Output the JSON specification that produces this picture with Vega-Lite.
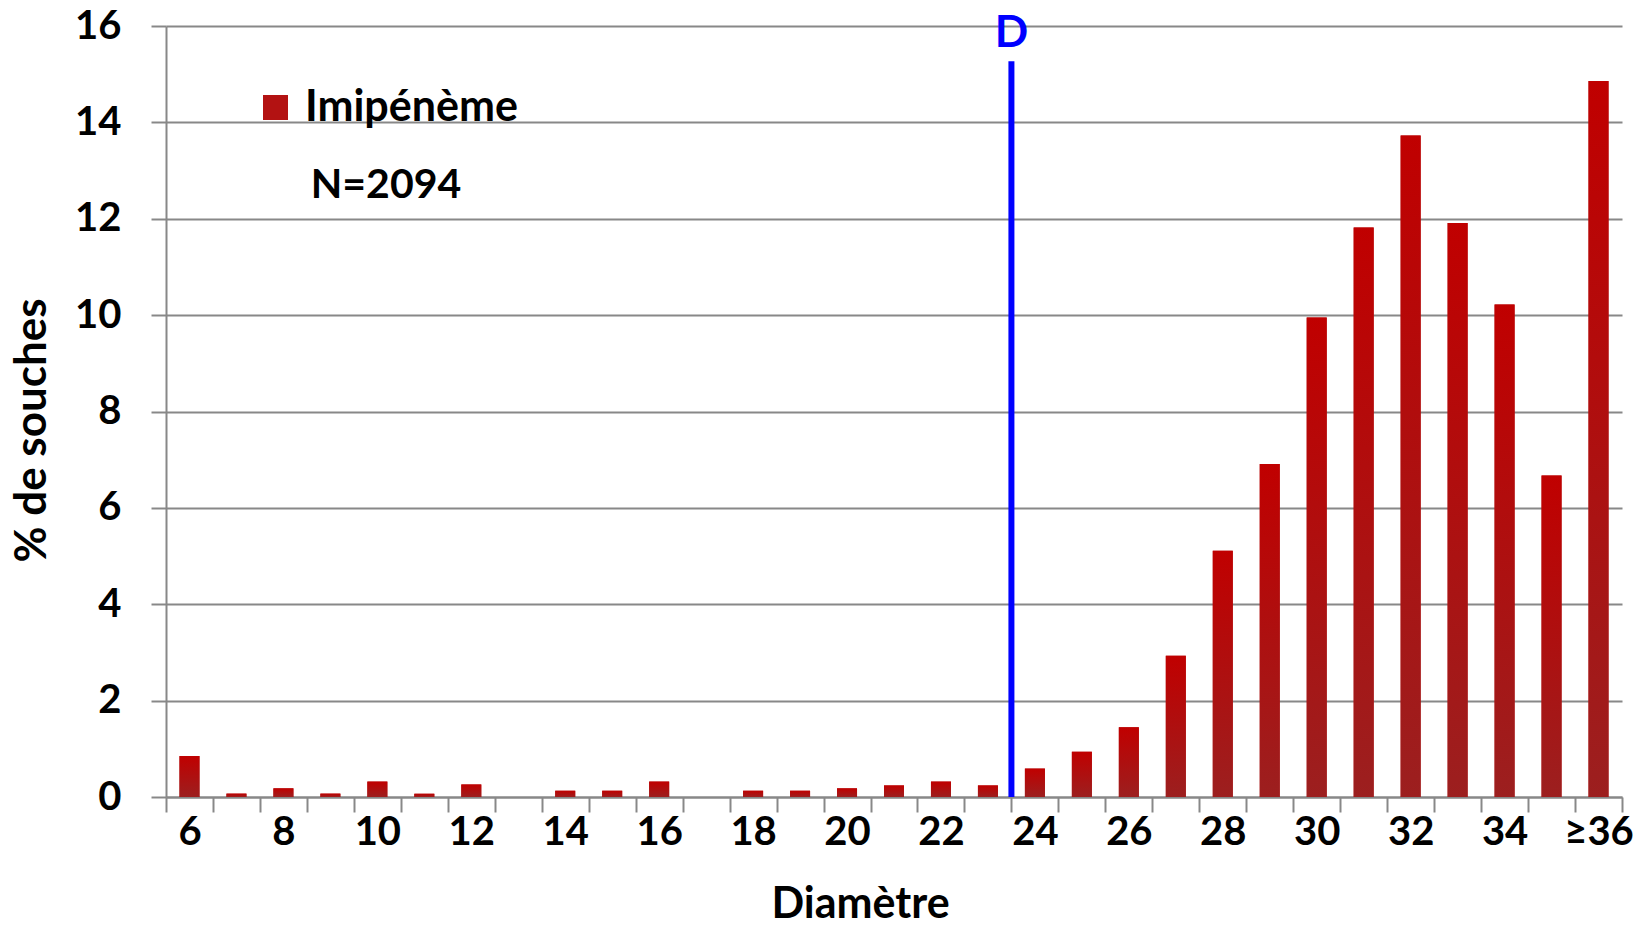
{
  "$schema": "https://vega.github.io/schema/vega-lite/v6.json",
  "width": 1456,
  "height": 771,
  "autosize": {"type": "none"},
  "padding": {"left": 166, "top": 26, "right": 23, "bottom": 132},
  "background": "white",
  "config": {"font": "Lato", "view": {"stroke": null}},
  "datasets": {
    "bars": [
      {"d": "6", "pct": 0.85, "serie": "Imipénème"},
      {"d": "7", "pct": 0.07, "serie": "Imipénème"},
      {"d": "8", "pct": 0.18, "serie": "Imipénème"},
      {"d": "9", "pct": 0.07, "serie": "Imipénème"},
      {"d": "10", "pct": 0.32, "serie": "Imipénème"},
      {"d": "11", "pct": 0.07, "serie": "Imipénème"},
      {"d": "12", "pct": 0.26, "serie": "Imipénème"},
      {"d": "13", "pct": 0, "serie": "Imipénème"},
      {"d": "14", "pct": 0.13, "serie": "Imipénème"},
      {"d": "15", "pct": 0.13, "serie": "Imipénème"},
      {"d": "16", "pct": 0.32, "serie": "Imipénème"},
      {"d": "17", "pct": 0, "serie": "Imipénème"},
      {"d": "18", "pct": 0.13, "serie": "Imipénème"},
      {"d": "19", "pct": 0.13, "serie": "Imipénème"},
      {"d": "20", "pct": 0.18, "serie": "Imipénème"},
      {"d": "21", "pct": 0.24, "serie": "Imipénème"},
      {"d": "22", "pct": 0.32, "serie": "Imipénème"},
      {"d": "23", "pct": 0.24, "serie": "Imipénème"},
      {"d": "24", "pct": 0.59, "serie": "Imipénème"},
      {"d": "25", "pct": 0.94, "serie": "Imipénème"},
      {"d": "26", "pct": 1.45, "serie": "Imipénème"},
      {"d": "27", "pct": 2.93, "serie": "Imipénème"},
      {"d": "28", "pct": 5.11, "serie": "Imipénème"},
      {"d": "29", "pct": 6.91, "serie": "Imipénème"},
      {"d": "30", "pct": 9.95, "serie": "Imipénème"},
      {"d": "31", "pct": 11.82, "serie": "Imipénème"},
      {"d": "32", "pct": 13.73, "serie": "Imipénème"},
      {"d": "33", "pct": 11.91, "serie": "Imipénème"},
      {"d": "34", "pct": 10.22, "serie": "Imipénème"},
      {"d": "35", "pct": 6.67, "serie": "Imipénème"},
      {"d": "≥36", "pct": 14.86, "serie": "Imipénème"}
    ],
    "seuil": [{"label": "D", "cat": "24", "base": 0, "top": 15.27, "pos": 15.84}]
  },
  "layer": [
    {
      "data": {"name": "bars"},
      "mark": {"type": "bar", "width": 20},
      "encoding": {
        "x": {
          "field": "d",
          "type": "nominal",
          "sort": null,
          "title": "Diamètre",
          "scale": {
            "domain": ["6","7","8","9","10","11","12","13","14","15","16","17","18","19","20","21","22","23","24","25","26","27","28","29","30","31","32","33","34","35","≥36"],
            "paddingInner": 0,
            "paddingOuter": 0
          },
          "axis": {
            "tickBand": "extent",
            "grid": false,
            "domainColor": "#888888",
            "domainWidth": 2,
            "tickColor": "#888888",
            "tickWidth": 2,
            "tickSize": 15,
            "labelAngle": 0,
            "labelFontSize": 40,
            "labelFontWeight": "bold",
            "labelColor": "black",
            "labelPadding": 0,
            "labelOverlap": false,
            "labelExpr": "indexof(['7','9','11','13','15','17','19','21','23','25','27','29','31','33','35'], datum.value) >= 0 ? '' : datum.label",
            "titleFontSize": 43,
            "titleFontWeight": "bold",
            "titleColor": "black",
            "titleX": 694,
            "titleY": 120,
            "titleBaseline": "alphabetic"
          }
        },
        "y": {
          "field": "pct",
          "type": "quantitative",
          "title": "% de souches",
          "scale": {"domain": [0, 16]},
          "axis": {
            "values": [0, 2, 4, 6, 8, 10, 12, 14, 16],
            "grid": true,
            "gridColor": "#888888",
            "gridWidth": 2,
            "domainColor": "#888888",
            "domainWidth": 2,
            "tickColor": "#888888",
            "tickWidth": 2,
            "tickSize": 15,
            "labelFontSize": 40,
            "labelFontWeight": "bold",
            "labelColor": "black",
            "labelPadding": 30,
            "titleFontSize": 44,
            "titleFontWeight": "bold",
            "titleColor": "black",
            "titlePadding": 20,
            "titleY": 404
          }
        },
        "color": {
          "field": "serie",
          "type": "nominal",
          "scale": {"range": ["#B31212"]},
          "legend": {
            "orient": "none",
            "legendX": 88,
            "legendY": 60,
            "title": "N=2094",
            "titleOrient": "bottom",
            "titleAnchor": "middle",
            "titleFontSize": 41,
            "titleFontWeight": "bold",
            "titleColor": "black",
            "titlePadding": 36,
            "labelFontSize": 43,
            "labelFontWeight": "bold",
            "labelColor": "black",
            "labelOffset": 8,
            "labelLimit": 500,
            "symbolType": "square",
            "symbolSize": 625,
            "symbolStrokeWidth": 0,
            "symbolOpacity": 1
          }
        }
      }
    },
    {
      "data": {"name": "bars"},
      "mark": {
        "type": "bar",
        "width": 20,
        "fill": {
          "gradient": "linear",
          "x1": 0, "y1": 0, "x2": 0, "y2": 1,
          "stops": [
            {"offset": 0, "color": "#C00000"},
            {"offset": 1, "color": "#9C1F1F"}
          ]
        }
      },
      "encoding": {
        "x": {"field": "d", "type": "nominal", "sort": null},
        "y": {"field": "pct", "type": "quantitative"}
      }
    },
    {
      "data": {"name": "seuil"},
      "mark": {"type": "rule", "color": "#0000FF", "strokeWidth": 6},
      "encoding": {
        "x": {"field": "cat", "type": "nominal", "bandPosition": 0},
        "y": {"field": "base", "type": "quantitative"},
        "y2": {"field": "top"}
      }
    },
    {
      "data": {"name": "seuil"},
      "mark": {"type": "text", "color": "#0000FF", "fontSize": 44, "fontWeight": "bold", "baseline": "middle", "align": "center"},
      "encoding": {
        "x": {"field": "cat", "type": "nominal", "bandPosition": 0},
        "y": {"field": "pos", "type": "quantitative"},
        "text": {"field": "label"}
      }
    }
  ]
}
